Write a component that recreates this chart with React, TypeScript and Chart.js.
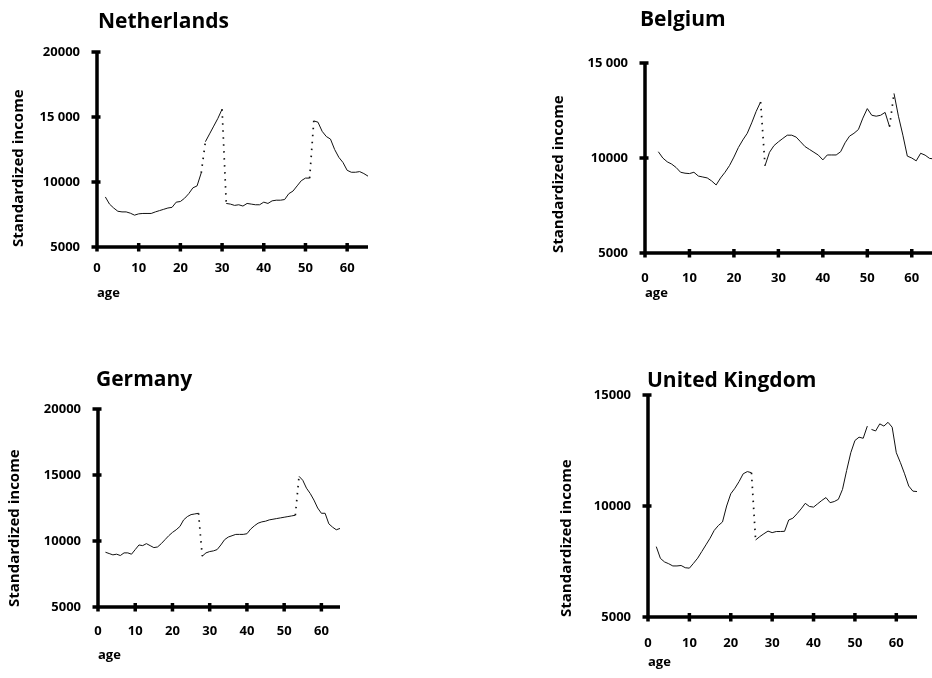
import React, { useEffect, useRef } from "react";
import { Chart, registerables } from "chart.js";

Chart.register(...registerables);

// ---------- data ----------
const ages = [
  2, 3, 4, 5, 6, 7, 8, 9, 10, 11,
  12, 13, 14, 15, 16, 17, 18, 19, 20, 21,
  22, 23, 24, 25, 26, 27, 28, 29, 30, 31,
  32, 33, 34, 35, 36, 37, 38, 39, 40, 41,
  42, 43, 44, 45, 46, 47, 48, 49, 50, 51,
  52, 53, 54, 55, 56, 57, 58, 59, 60, 61,
  62, 63, 64, 65,
];

const netherlandsIncome = [
  8850, 8300, 8000, 7750, 7700, 7700, 7600, 7450, 7550, 7580,
  7580, 7580, 7700, 7800, 7900, 8000, 8050, 8450, 8500, 8750,
  9100, 9550, 9700, 10700, 13100, 13700, 14300, 14900, 15600, 8350,
  8300, 8200, 8250, 8150, 8350, 8300, 8250, 8250, 8450, 8350,
  8550, 8600, 8600, 8650, 9100, 9300, 9700, 10100, 10300, 10300,
  14700, 14600, 13900, 13500, 13300, 12500, 11900, 11500, 10900, 10750,
  10750, 10800, 10650, 10450,
];
const netherlandsJumps = [25, 30, 51];
const netherlandsGaps: number[] = [];

const belgiumIncome = [
  null, 10330, 10000, 9800, 9680, 9500, 9250, 9200, 9180, 9250,
  9050, 9000, 8950, 8790, 8580, 8950, 9250, 9600, 10050, 10550,
  10950, 11300, 11850, 12450, 12950, 9600, 10300, 10650, 10850, 11030,
  11200, 11200, 11100, 10850, 10600, 10450, 10300, 10150, 9900, 10160,
  10160, 10160, 10330, 10800, 11150, 11300, 11500, 12100, 12600, 12250,
  12200, 12250, 12400, 11650, 13400, 12200, 11200, 10100, 10000, 9850,
  10250, 10150, 9980, 9950,
];
const belgiumJumps = [26, 55];
const belgiumGaps: number[] = [];

const germanyIncome = [
  9150, 9050, 8950, 9000, 8900, 9100, 9100, 9000, 9350, 9700,
  9650, 9800, 9650, 9500, 9550, 9800, 10100, 10400, 10650, 10850,
  11100, 11600, 11850, 12000, 12050, 12100, 8850, 9100, 9200, 9250,
  9350, 9700, 10100, 10300, 10400, 10500, 10500, 10500, 10550, 10900,
  11150, 11350, 11450, 11500, 11600, 11650, 11700, 11750, 11800, 11850,
  11900, 11950, 14900, 14600, 14000, 13600, 13100, 12500, 12100, 12100,
  11300, 11050, 10850, 10950,
];
const germanyJumps = [27, 53];
const germanyGaps: number[] = [];

const ukIncome = [
  8170, 7640, 7480, 7400, 7300, 7300, 7320, 7220, 7200, 7420,
  7650, 7950, 8250, 8550, 8900, 9120, 9280, 10000, 10550, 10800,
  11100, 11450, 11550, 11500, 8470, 8620, 8750, 8870, 8800, 8850,
  8850, 8860, 9370, 9450, 9650, 9870, 10120, 9980, 9950, 10100,
  10250, 10380, 10150, 10200, 10300, 10750, 11600, 12400, 12950, 13100,
  13050, 13600, 13450, 13380, 13700, 13600, 13770, 13550, 12400, 11950,
  11450, 10900, 10670, 10650,
];
const ukJumps = [25];
const ukGaps = [53];

const nlYTickLabels = ["5000", "10000", "15 000", "20000"];
const beYTickLabels = ["5000", "10000", "15 000"];
const deYTickLabels = ["5000", "10000", "15000", "20000"];
const ukYTickLabels = ["5000", "10000", "15000"];

const yAxisTitle = "Standardized income";
const xAxisTitle = "age";

// ---------- layout ----------
const FONT = "'Open Sans', 'DejaVu Sans', sans-serif";

const panels = [
  {
    title: "Netherlands", values: netherlandsIncome, jumps: netherlandsJumps, gaps: netherlandsGaps,
    yMax: 20000, yLabels: nlYTickLabels,
    left: 0, top: 0, width: 372, height: 307, padTop: 52, padRight: 4, yWidth: 97, xHeight: 60,
    titleX: 98, titleY: 28, yTitlePad: 10, xTitlePad: 6, xTickPad: 13,
  },
  {
    title: "Belgium", values: belgiumIncome, jumps: belgiumJumps, gaps: belgiumGaps,
    yMax: 15000, yLabels: beYTickLabels,
    left: 540, top: 0, width: 396, height: 313, padTop: 63, padRight: 2, yWidth: 105, xHeight: 60,
    titleX: 640, titleY: 26, yTitlePad: 9.5, xTitlePad: 12, xTickPad: 17,
  },
  {
    title: "Germany", values: germanyIncome, jumps: germanyJumps, gaps: germanyGaps,
    yMax: 20000, yLabels: deYTickLabels,
    left: 0, top: 340, width: 344, height: 327, padTop: 69, padRight: 4, yWidth: 98, xHeight: 60,
    titleX: 96, titleY: 386, yTitlePad: 6, xTitlePad: 4, xTickPad: 16,
  },
  {
    title: "United Kingdom", values: ukIncome, jumps: ukJumps, gaps: ukGaps,
    yMax: 15000, yLabels: ukYTickLabels,
    left: 540, top: 340, width: 381, height: 337, padTop: 55, padRight: 4, yWidth: 108, xHeight: 60,
    titleX: 647, titleY: 387, yTitlePad: 17.5, xTitlePad: 7, xTickPad: 18,
  },
];

const axesPlugin = {
  id: "thickAxes",
  afterDraw(chart: any) {
    const { ctx, chartArea, scales } = chart;
    const { left, right, top, bottom } = chartArea;
    ctx.save();
    ctx.strokeStyle = "#000";
    ctx.lineWidth = 3.5;
    ctx.lineCap = "butt";
    ctx.beginPath();
    ctx.moveTo(left, top - 1.5);
    ctx.lineTo(left, bottom + 1.75);
    ctx.moveTo(left - 1.75, bottom);
    ctx.lineTo(right, bottom);
    scales.x.ticks.forEach((t: any) => {
      const px = scales.x.getPixelForValue(t.value);
      ctx.moveTo(px, bottom - 4);
      ctx.lineTo(px, bottom + 4.5);
    });
    scales.y.ticks.forEach((t: any) => {
      const py = scales.y.getPixelForValue(t.value);
      ctx.moveTo(left - 5.5, py);
      ctx.lineTo(left + 3.5, py);
    });
    ctx.stroke();
    ctx.restore();
  },
};

const titlePlugin = {
  id: "panelTitle",
  afterDraw(chart: any, _args: any, opts: any) {
    if (!opts || !opts.text) return;
    const { ctx } = chart;
    ctx.save();
    ctx.font = `bold 21px ${FONT}`;
    ctx.fillStyle = "#000";
    ctx.textAlign = "left";
    ctx.textBaseline = "alphabetic";
    ctx.fillText(opts.text, opts.x, opts.y);
    ctx.restore();
  },
};

function Panel({ p }: { p: (typeof panels)[number] }) {
  const ref = useRef<HTMLCanvasElement>(null);
  useEffect(() => {
    const points = ages.map((a, i) => ({ x: a, y: p.values[i] }));
    const chart = new Chart(ref.current as HTMLCanvasElement, {
      type: "line",
      data: {
        datasets: [
          {
            data: points as any,
            borderColor: "#111",
            borderWidth: 1,
            pointRadius: 0,
            tension: 0,
            fill: false,
            spanGaps: false,
            segment: {
              borderDash: (c: any) => (p.jumps.includes(ages[c.p0DataIndex]) ? [1.5, 5.5] : undefined),
              borderWidth: (c: any) => (p.jumps.includes(ages[c.p0DataIndex]) ? 1.7 : undefined),
              borderColor: (c: any) => (p.gaps.includes(ages[c.p0DataIndex]) ? "rgba(0,0,0,0)" : undefined),
            },
          } as any,
        ],
      },
      options: {
        animation: false,
        responsive: false,
        devicePixelRatio: 1,
        layout: { padding: { top: p.padTop, right: p.padRight, left: 0, bottom: 0 } },
        plugins: {
          legend: { display: false },
          tooltip: { enabled: false },
          panelTitle: { text: p.title, x: p.titleX - p.left, y: p.titleY - p.top },
        } as any,
        scales: {
          x: {
            type: "linear",
            min: 0,
            max: 65,
            grid: { display: false, drawTicks: false },
            border: { display: false },
            ticks: {
              stepSize: 10,
              includeBounds: false,
              autoSkip: false,
              maxRotation: 0,
              padding: p.xTickPad,
              color: "#000",
              font: { family: FONT, size: 13, weight: "bold" },
            },
            title: {
              display: true,
              text: xAxisTitle,
              align: "start",
              color: "#000",
              font: { family: FONT, size: 13, weight: "bold" },
              padding: { top: 0, bottom: p.xTitlePad },
            },
            afterFit: (s: any) => {
              s.height = p.xHeight;
              s.paddingLeft = 0;
              s.paddingRight = 0;
            },
          },
          y: {
            type: "linear",
            min: 5000,
            max: p.yMax,
            grid: { display: false, drawTicks: false },
            border: { display: false },
            ticks: {
              stepSize: 5000,
              includeBounds: false,
              autoSkip: false,
              padding: 17,
              color: "#000",
              font: { family: FONT, size: 13, weight: "bold" },
              callback: (_v: any, i: number) => p.yLabels[i],
            },
            title: {
              display: true,
              text: yAxisTitle,
              align: "start",
              color: "#000",
              font: { family: FONT, size: 15, weight: "bold" },
              padding: { top: p.yTitlePad, bottom: 0 },
            },
            afterFit: (s: any) => {
              s.width = p.yWidth;
              s.paddingTop = 0;
              s.paddingBottom = 0;
            },
          },
        },
      } as any,
      plugins: [axesPlugin, titlePlugin],
    });
    return () => chart.destroy();
  }, []);
  return (
    <canvas
      ref={ref}
      width={p.width}
      height={p.height}
      style={{ position: "absolute", left: p.left, top: p.top, width: p.width, height: p.height }}
    />
  );
}

export default function App() {
  return (
    <div
      style={{
        position: "absolute",
        left: 0,
        top: 0,
        width: 932,
        height: 678,
        overflow: "hidden",
        background: "#fff",
      }}
    >
      {panels.map((p) => (
        <Panel key={p.title} p={p} />
      ))}
    </div>
  );
}
